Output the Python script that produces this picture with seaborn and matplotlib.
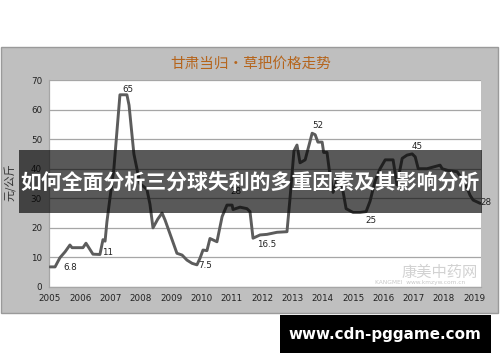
import matplotlib
matplotlib.use("Agg")
import matplotlib.pyplot as plt
from matplotlib.patches import Rectangle
import seaborn as sns
import pandas as pd

# ---- data ----
years = [2005.00, 2005.17, 2005.33, 2005.50, 2005.66, 2005.73, 2006.09, 2006.19, 2006.42, 2006.65,
         2006.75, 2006.82, 2006.88, 2006.98, 2007.11, 2007.31, 2007.54, 2007.61, 2007.77, 2007.97,
         2008.20, 2008.30, 2008.40, 2008.56, 2008.70, 2008.80, 2009.03, 2009.19, 2009.36, 2009.52,
         2009.69, 2009.85, 2009.95, 2010.05, 2010.18, 2010.28, 2010.51, 2010.68, 2010.84, 2011.01,
         2011.04, 2011.27, 2011.50, 2011.60, 2011.70, 2011.93, 2012.16, 2012.49, 2012.82, 2012.92,
         2013.05, 2013.15, 2013.25, 2013.42, 2013.65, 2013.75, 2013.84, 2013.98, 2014.03, 2014.14,
         2014.21, 2014.34, 2014.50, 2014.64, 2014.77, 2015.00, 2015.23, 2015.43, 2015.56, 2015.73,
         2015.89, 2016.06, 2016.32, 2016.45, 2016.62, 2016.78, 2016.95, 2017.05, 2017.15, 2017.44,
         2017.87, 2017.94, 2018.13, 2018.43, 2018.70, 2018.86, 2018.96, 2019.19]
prices = [6.8, 6.8, 9.9, 11.9, 14.2, 13.3, 13.3, 14.8, 11.1, 11.0,
          16.0, 15.5, 22.0, 30.0, 40.0, 65.0, 65.0, 61.5, 45.0, 35.0,
          33.0, 28.0, 20.0, 23.0, 25.0, 22.6, 16.0, 11.4, 10.8, 9.1,
          8.0, 7.5, 9.7, 12.5, 12.3, 16.4, 15.3, 23.8, 27.7, 27.7,
          26.2, 27.0, 26.5, 25.5, 16.5, 17.6, 17.8, 18.5, 18.7, 30.0,
          46.0, 48.0, 42.0, 43.0, 52.0, 51.5, 49.0, 49.0, 45.5, 45.5,
          40.0, 32.0, 37.0, 34.0, 26.5, 25.2, 25.2, 25.5, 29.0, 36.0,
          40.0, 43.0, 43.0, 34.5, 43.5, 44.6, 45.0, 44.0, 40.0, 40.0,
          41.2, 40.0, 39.4, 39.0, 35.0, 31.0, 29.4, 28.3]

label_text = ["65", "6.8", "11", "7.5", "28", "16.5", "52", "25", "45", "28"]
label_x = [2007.57, 2005.66, 2006.91, 2010.12, 2011.14, 2012.15, 2013.83, 2015.59, 2017.10, 2019.39]
label_y = [66.9, 6.5, 11.6, 7.4, 32.2, 14.4, 54.7, 22.6, 47.4, 28.5]

tick_years = list(range(2005, 2020))
y_ticks = [0, 10, 20, 30, 40, 50, 60, 70]

title = "甘肃当归•草把价格走势"
ylabel = "元/公斤"
banner = "如何全面分析三分球失利的多重因素及其影响分析"
site = "www.cdn-pggame.com"

# ---- style ----
sns.set_theme(style="white")
plt.rcParams['font.family'] = ['Noto Sans CJK SC', 'DejaVu Sans']

W, H = 500, 362
fig = plt.figure(figsize=(W / 100, H / 100), dpi=100)
fig.patch.set_facecolor("white")

def fx(px):
    return px / W

def fy(py):
    return 1 - py / H

# outer gray chart frame
fig.patches.append(Rectangle((fx(1), fy(313)), fx(497), (313 - 47) / H, transform=fig.transFigure,
                             facecolor="#bfbfbf", edgecolor="#9a9a9a", lw=1.0, zorder=-5))

ax = fig.add_axes([fx(49), fy(287), fx(481 - 49), (287 - 80) / H])
ax.set_zorder(1)
ax.set_facecolor("white")

df = pd.DataFrame({"year": years, "price": prices})
sns.lineplot(data=df, x="year", y="price", ax=ax, color="#5c5c5c", lw=2.1, zorder=3)

ax.set_xlim(2004.97, 2019.22)
ax.set_ylim(0, 70)
ax.set_xticks(tick_years)
ax.set_xticklabels([str(t) for t in tick_years], fontsize=6.3, color="#222222", family="DejaVu Sans")
ax.set_yticks(y_ticks)
ax.set_yticklabels([str(t) for t in y_ticks], fontsize=6.3, color="#222222", family="DejaVu Sans")
ax.tick_params(axis="both", length=0, pad=5)
ax.set_xlabel("")
ax.set_ylabel("")
ax.grid(axis="y", color="#a6a6a6", lw=0.9)
ax.grid(axis="x", visible=False)
for side, sp in ax.spines.items():
    sp.set_visible(side in ("left", "bottom"))
    sp.set_color("#a6a6a6")
    sp.set_linewidth(0.9)

for t, x, y in zip(label_text, label_x, label_y):
    ax.text(x, y, t, fontsize=6.3, color="#222222", ha="center", va="center",
            family="DejaVu Sans", clip_on=False, zorder=4)

fig.text(fx(251), fy(64), title, fontsize=10.5, color="#b5651d", ha="center", va="center")
fig.text(fx(10), fy(182), ylabel, fontsize=8, color="#333333", rotation=90, ha="center", va="center")

# watermark (inside the axes, behind the line)
ax.text(0.905, 0.072, "康美中药网", transform=ax.transAxes, fontsize=11, color="#d2d2d2",
        ha="center", va="center", zorder=1)
ax.text(0.86, 0.02, "KANGMEI  www.kmzyw.com.cn", transform=ax.transAxes, fontsize=4.2,
        color="#c8c8c8", ha="center", va="center", family="DejaVu Sans", zorder=1)

# overlay banner
fig.patches.append(Rectangle((fx(19), fy(213)), fx(482 - 19), (213 - 150) / H, transform=fig.transFigure,
                             facecolor="black", alpha=0.65, edgecolor="none", zorder=10))
fig.text(fx(250), fy(183), banner, fontsize=15, color="white", fontweight="bold",
         ha="center", va="center", zorder=11)

# black site box
fig.patches.append(Rectangle((fx(280), fy(353)), fx(491 - 280), (353 - 315) / H, transform=fig.transFigure,
                             facecolor="black", edgecolor="none", zorder=10))
fig.text(fx(385), fy(335), site, fontsize=10.9, color="white", fontweight="bold",
         ha="center", va="center", family="DejaVu Sans", zorder=11)

fig.savefig("out.png", dpi=100)
